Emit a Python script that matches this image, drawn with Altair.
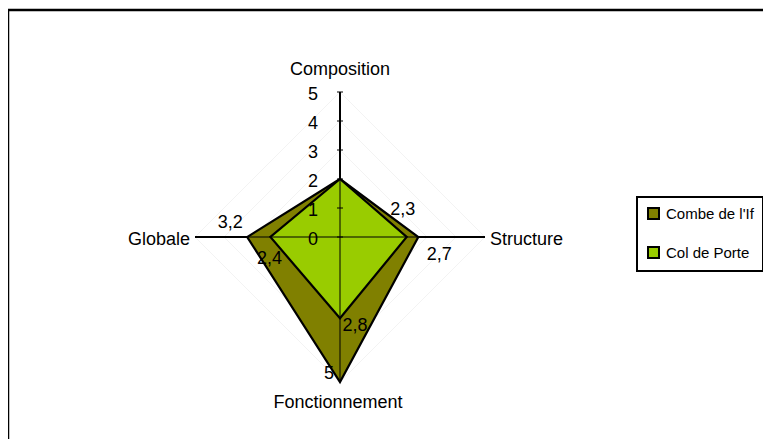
import altair as alt
import pandas as pd

# ---------------- data ----------------
axis_names = ["Composition", "Structure", "Fonctionnement", "Globale"]
series_names = ["Combe de l'If", "Col de Porte"]
combe_values = [2, 2.7, 5, 3.2]
col_values = [2, 2.3, 2.8, 2.4]
series_colors = ["#808000", "#99cc00"]
tick_values = [0, 1, 2, 3, 4, 5]
r_max = 5

# ---------------- geometry / style ----------------
PX = 29.0                     # pixels per unit
W, H = 755, 431
CX, CY = 332, 229             # centre of radar in chart pixels
XDOM = [-CX / PX, (W - CX) / PX]
YDOM = [-(H - CY) / PX, CY / PX]
dirs = [(0, 1), (1, 0), (0, -1), (-1, 0)]   # top, right, bottom, left
FONT = "Liberation Sans"
FS = 18

xs = alt.Scale(domain=XDOM, nice=False, zero=False)
ys = alt.Scale(domain=YDOM, nice=False, zero=False)


def X(f="x"):
    return alt.X(f"{f}:Q", scale=xs, axis=None)


def Y(f="y"):
    return alt.Y(f"{f}:Q", scale=ys, axis=None)


# polygons
poly_rows = []
for s, vals in zip(series_names, [combe_values, col_values]):
    for i in range(5):
        k = i % 4
        v = vals[k]
        poly_rows.append({"serie": s, "ord": i, "x": v * dirs[k][0], "y": v * dirs[k][1]})
poly = pd.DataFrame(poly_rows)

# grid diamonds
grid_rows = []
for lv in tick_values[1:]:
    for i in range(5):
        k = i % 4
        grid_rows.append({"lv": lv, "ord": i, "x": lv * dirs[k][0], "y": lv * dirs[k][1]})
grid = pd.DataFrame(grid_rows)

# spokes
spokes = pd.DataFrame([{"x": 0, "y": 0, "x2": r_max * dx, "y2": r_max * dy} for dx, dy in dirs])

# tick marks and labels on Composition axis
ticks_df = pd.DataFrame({"v": tick_values, "lab": [str(t) for t in tick_values]})
ticks_df["x"] = -3 / PX
ticks_df["x2"] = 3 / PX
ticks_df["lx"] = -27 / PX
ticks_df["ly"] = ticks_df["v"] - 3 / PX

# axis name labels
name_off = [(0, 22), (5, -3), (-2, -21), (-5, -3)]
name_align = ["center", "left", "center", "right"]
names_df = pd.DataFrame({
    "name": axis_names,
    "x": [r_max * d[0] + o[0] / PX for d, o in zip(dirs, name_off)],
    "y": [r_max * d[1] + o[1] / PX for d, o in zip(dirs, name_off)],
    "al": name_align,
})

# data labels (Composition labels hidden as in the original)
lab_off_combe = [None, (21, -18), (-11, 8), (-17, 14)]
lab_off_col = [None, (-4, 27), (15, -8), (-1, -22)]
lab_rows = []
for vals, offs in [(combe_values, lab_off_combe), (col_values, lab_off_col)]:
    for k in range(4):
        if offs[k] is None:
            continue
        v = vals[k]
        lab_rows.append({
            "t": f"{v:g}".replace(".", ","),
            "x": v * dirs[k][0] + offs[k][0] / PX,
            "y": v * dirs[k][1] + offs[k][1] / PX,
        })
labs = pd.DataFrame(lab_rows)

color_scale = alt.Scale(domain=series_names, range=series_colors)
legend = alt.Legend(
    title=None, orient="none", legendX=629, legendY=189, direction="vertical",
    symbolType="square", symbolSize=121, symbolStrokeColor="black", symbolStrokeWidth=2,
    symbolOpacity=1, labelFont=FONT, labelFontSize=15, labelColor="black",
    labelOffset=5, rowPadding=20, padding=9, strokeColor="black", fillColor="white",
)

grid_layer = alt.Chart(grid).mark_line(stroke="#f3f3f3", strokeWidth=1).encode(
    x=X(), y=Y(), detail="lv:N", order="ord:Q")

spokes_thick = alt.Chart(spokes).mark_rule(color="black", strokeWidth=2).encode(
    x=X(), y=Y(), x2="x2:Q", y2="y2:Q")

poly_layers = []
for s in series_names:
    poly_layers.append(
        alt.Chart(poly).transform_filter(alt.datum.serie == s)
        .mark_line(filled=True, stroke="black", strokeWidth=2.2, strokeJoin="miter")
        .encode(x=X(), y=Y(), order="ord:Q",
                fill=alt.Fill("serie:N", scale=color_scale, legend=legend))
    )

spokes_thin = alt.Chart(spokes).mark_rule(color="black", strokeWidth=1).encode(
    x=X(), y=Y(), x2="x2:Q", y2="y2:Q")

tick_marks = alt.Chart(ticks_df).mark_rule(color="black", strokeWidth=1).encode(
    x=X(), x2="x2:Q", y=alt.Y("v:Q", scale=ys, axis=None))

tick_labels = alt.Chart(ticks_df).mark_text(
    font=FONT, fontSize=FS, color="black", align="center", baseline="middle"
).encode(x=X("lx"), y=Y("ly"), text="lab:N")

name_layers = []
for al in ["center", "left", "right"]:
    name_layers.append(
        alt.Chart(names_df).transform_filter(alt.datum.al == al).mark_text(
            font=FONT, fontSize=FS, color="black", align=al, baseline="middle"
        ).encode(x=X(), y=Y(), text="name:N")
    )

data_labels = alt.Chart(labs).mark_text(
    font=FONT, fontSize=FS, color="black", align="center", baseline="middle"
).encode(x=X(), y=Y(), text="t:N")

frame_top = alt.Chart(pd.DataFrame({"a": [0]})).mark_rule(color="black", strokeWidth=2.5).encode(
    x=alt.value(0), x2=alt.value(W), y=alt.value(2))
frame_left = alt.Chart(pd.DataFrame({"a": [0]})).mark_rule(color="black", strokeWidth=2.5).encode(
    x=alt.value(0), y=alt.value(1), y2=alt.value(H))

chart = alt.layer(
    grid_layer, spokes_thick, *poly_layers, spokes_thin, tick_marks, tick_labels,
    *name_layers, data_labels, frame_top, frame_left
).properties(
    width=W, height=H, padding=0, autosize="none"
).configure_view(stroke=None).configure_legend(strokeWidth=2)

chart.save("out.html", embed_options={"renderer": "svg", "actions": False})
